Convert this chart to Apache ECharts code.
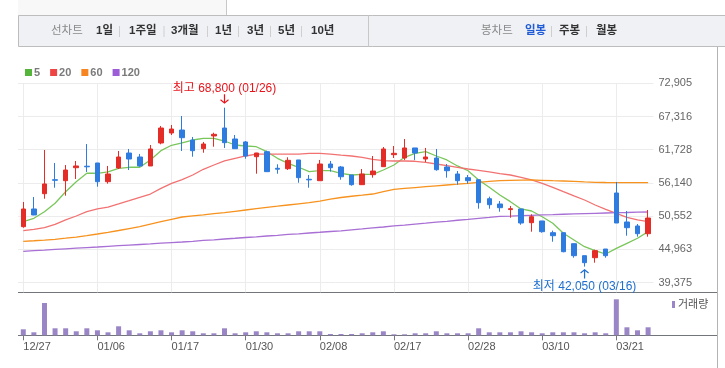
<!DOCTYPE html>
<html><head><meta charset="utf-8">
<script src="https://cdn.jsdelivr.net/npm/echarts@6/dist/echarts.min.js"></script>
<style>html,body{margin:0;padding:0;background:#fff}#c{width:725px;height:368px}</style>
</head><body><div id="c"></div>
<script>
const dates = ['12/27','12/28','12/29','01/02','01/03','01/04','01/05','01/06','01/09','01/10','01/11','01/12','01/13','01/16','01/17','01/18','01/19','01/20','01/25','01/26','01/27','01/30','01/31','02/01','02/02','02/03','02/06','02/07','02/08','02/09','02/10','02/13','02/14','02/15','02/16','02/17','02/20','02/21','02/22','02/23','02/24','02/27','02/28','03/02','03/03','03/06','03/07','03/08','03/09','03/10','03/13','03/14','03/15','03/16','03/17','03/20','03/21','03/22','03/23','03/24'];
const openP  = [48770,51750,54320,56680,56510,58700,58950,59490,56340,58650,61170,60500,58990,62860,64540,65040,63360,61900,64040,65380,63530,63030,60550,61390,58600,58530,60000,56750,56510,59320,58820,57470,55840,57520,58870,60890,60330,62020,60160,60330,58820,57640,57020,56680,53480,52590,51650,51750,49440,49730,47760,47760,45910,43890,43550,45010,54440,49560,48890,47590];
const closeP = [51750,50740,55960,56580,58310,58990,58850,56340,57640,60500,60160,58990,61850,65380,65210,63750,61560,62690,64320,62910,61900,60670,61170,58030,58450,59940,57020,56650,59320,58700,57180,55840,57640,58140,61850,61120,62020,61170,60500,58360,58190,56510,56510,52810,52470,51970,51800,49390,50450,47930,47250,44560,43890,42710,44730,43890,49390,48600,47590,50230];
const lowP   = [48600,50700,53480,55330,53990,56800,57980,55500,56010,58480,58310,58870,58990,62640,64200,61510,60550,61220,62230,62020,61850,60210,57690,58000,57690,58310,56170,55330,56500,58030,56680,55670,55800,57020,58850,60330,60000,60000,59660,58200,57020,55840,56010,51800,51800,51290,50280,49100,47930,47760,46240,44460,43550,42050,42710,43550,49390,47250,47090,47090];
const highP  = [52930,53770,61680,59490,59150,59830,62690,59490,58990,61510,61850,61010,62520,65720,65890,67400,63870,63030,64590,68800,64200,63190,61200,61560,59270,60450,60000,57470,60000,59830,58990,57470,58480,60670,62180,62350,63530,62020,62020,61850,59320,58140,57470,56700,53820,53090,52250,51750,50860,49730,48100,47760,45910,43890,44900,45010,56290,51410,49220,51580];
const ma5   = [49610,50180,51290,52710,54660,56340,57760,57760,57980,58600,58770,58770,60000,61560,62470,62860,63360,63650,63650,63190,62520,62350,62230,61390,60280,59440,58770,58030,58190,58190,57760,57470,57590,57590,58310,59150,60450,61120,61390,60670,60000,58990,58190,56630,55400,54100,52980,51750,51410,50450,49340,47660,46530,45400,44730,44170,45130,45970,46820,47930];
const ma20  = [48100,48330,48600,49170,49900,50570,51290,51750,52080,52590,53140,53720,54270,55230,56070,56680,57470,58430,59150,59830,60280,60670,61000,61000,61000,61000,61000,61120,61120,61000,60800,60670,60450,60110,59880,59830,59830,59780,59610,59320,59040,58770,58480,58260,57980,57690,57470,57080,56630,56070,55400,54660,53940,53260,52420,51700,51020,50350,49900,49610];
const ma60  = [46310,46400,46500,46650,46830,47030,47270,47540,47830,48130,48450,48770,49190,49610,50010,50400,50590,50770,50960,51120,51360,51580,51810,52030,52220,52420,52610,52810,53090,53400,53680,53890,54070,54270,54680,55060,55210,55350,55500,55650,55790,55920,56070,56230,56380,56510,56560,56600,56630,56580,56510,56460,56390,56310,56240,56210,56190,56170,56170,56170];
const ma120 = [44630,44730,44830,44950,45050,45150,45250,45350,45470,45570,45670,45770,45870,45990,46090,46190,46310,46450,46560,46700,46820,46950,47070,47200,47320,47460,47570,47710,47830,47960,48080,48250,48400,48570,48720,48890,49040,49210,49360,49530,49680,49850,50000,50170,50320,50490,50550,50620,50690,50750,50800,50860,50910,50970,51020,51070,51120,51160,51210,51240];
const volume = [600,300,3230,700,700,400,700,500,300,900,500,200,400,500,300,500,400,200,200,700,200,300,400,300,200,200,400,400,400,130,130,130,200,300,400,100,100,200,200,400,200,200,200,700,300,300,300,400,300,200,300,300,300,200,300,200,3600,800,500,800];
const yTickLabels = ['39,375','44,963','50,552','56,140','61,728','67,316','72,905'];
const maNames = ['5','20','60','120'];

const yMin = 39375, yInterval = 5588.27, yMax = yMin + 6 * yInterval;
const RED = '#e42d27', BLUE = '#2f7ce0';
const KFONT = '"Liberation Sans","Noto Sans CJK KR",sans-serif';

const candles = dates.map((d, i) => [openP[i], closeP[i], lowP[i], highP[i]]);
let hi = 0, lo = 0;
highP.forEach((v, i) => { if (v > highP[hi]) hi = i; });
lowP.forEach((v, i) => { if (v < lowP[lo]) lo = i; });
const fmt = v => v.toLocaleString('en-US');

const chart = echarts.init(document.getElementById('c'), null, {renderer: 'canvas'});
const GL = {left: 18, right: 71.6};
const gridColor = '#ececec';
const tool = [
  ['선차트', 51, '#8a8a8a', 'normal'], ['1일', 96, '#333', 'bold'], ['1주일', 129, '#333', 'bold'],
  ['3개월', 171, '#333', 'bold'], ['1년', 215, '#333', 'bold'], ['3년', 247, '#333', 'bold'],
  ['5년', 278, '#333', 'bold'], ['10년', 311, '#333', 'bold'],
  ['봉차트', 481, '#8a8a8a', 'normal'], ['일봉', 525, '#1f5bd6', 'bold'], ['주봉', 559, '#333', 'bold'], ['월봉', 596, '#333', 'bold']
];
const seps = [119, 163.5, 207, 238, 270, 301, 551, 586];
const graphics = [
  {type: 'rect', shape: {x: 18, y: 0, width: 208, height: 15}, style: {fill: '#f8f8f8'}, silent: true},
  {type: 'line', shape: {x1: 226.5, y1: 0, x2: 226.5, y2: 15}, style: {stroke: '#c8c8c8', lineWidth: 1}, silent: true},
  {type: 'rect', shape: {x: 18.5, y: 15.5, width: 720, height: 31}, style: {fill: '#eff1f5', stroke: '#bdbdbd', lineWidth: 1}, silent: true},
  {type: 'line', shape: {x1: 368.5, y1: 15.5, x2: 368.5, y2: 46.5}, style: {stroke: '#c8c8c8', lineWidth: 1}, silent: true},
  {type: 'line', shape: {x1: 18, y1: 292.5, x2: 717, y2: 292.5}, style: {stroke: '#72767a', lineWidth: 1.2}, silent: true},
  {type: 'line', shape: {x1: 18, y1: 335.5, x2: 717, y2: 335.5}, style: {stroke: '#72767a', lineWidth: 1.2}, silent: true},
  {type: 'line', shape: {x1: 717.5, y1: 47, x2: 717.5, y2: 368}, style: {stroke: '#b4b4b4', lineWidth: 1}, silent: true}
];
tool.forEach(t => graphics.push({type: 'text', x: t[1], y: 31, silent: true,
  style: {text: t[0], fill: t[2], font: t[3] + ' 11.5px ' + KFONT, textAlign: 'left', textVerticalAlign: 'middle'}}));
seps.forEach(x => graphics.push({type: 'line', shape: {x1: x + 0.5, y1: 26, x2: x + 0.5, y2: 37}, style: {stroke: '#cfcfcf', lineWidth: 1}, silent: true}));

const downArrow = 'path://M4,0 L4,10 M0.6,6.2 L4,9.8 L7.4,6.2';
const upArrow = 'path://M4,10 L4,0 M0.6,3.8 L4,0.2 L7.4,3.8';

const maLine = ['#79c65a', '#f27272', '#f7921e', '#a86fd4'];
const maIcon = ['#55b53a', '#ee4444', '#f68420', '#9c5ed6'];
const maData = [ma5, ma20, ma60, ma120];

const xBase = {type: 'category', data: dates, boundaryGap: true,
  axisLine: {show: false}, axisTick: {show: false}, axisLabel: {show: false},
  splitLine: {show: true, interval: 6, alignWithLabel: true, lineStyle: {color: gridColor, width: 1}}};

const option = {
  animation: false,
  textStyle: {fontFamily: KFONT},
  graphic: graphics,
  legend: [
    {data: maNames, left: 25, top: 67, padding: 0, itemWidth: 7, itemHeight: 7, itemGap: 10, icon: 'rect', selectedMode: false,
     textStyle: {fontSize: 11, fontWeight: 'bold', color: '#7a7a7a', padding: [0, 0, 0, -3], fontFamily: KFONT}},
    {data: ['거래량'], left: 672, top: 299, padding: 0, itemWidth: 3, itemHeight: 7, icon: 'rect', selectedMode: false,
     textStyle: {fontSize: 11, color: '#555', padding: [0, 0, 0, -2], fontFamily: KFONT}}
  ],
  grid: [
    {left: GL.left, right: GL.right, top: 83.3, height: 199.2},
    {left: GL.left, right: GL.right, top: 282.5, height: 9.8},
    {left: GL.left, right: GL.right, top: 292.5, height: 42.8}
  ],
  xAxis: [
    Object.assign({}, xBase, {gridIndex: 0}),
    Object.assign({}, xBase, {gridIndex: 1}),
    {type: 'category', data: dates, gridIndex: 2, boundaryGap: true,
     axisLine: {show: false},
     axisTick: {show: true, interval: 6, alignWithLabel: true, length: 5, lineStyle: {color: '#777'}},
     axisLabel: {show: true, interval: 6, align: 'left', margin: 6, fontSize: 11, color: '#555', fontFamily: KFONT},
     splitLine: {show: false}}
  ],
  yAxis: [
    {type: 'value', gridIndex: 0, position: 'right', min: yMin, max: yMax, interval: yInterval, scale: false,
     axisLine: {show: false}, axisTick: {show: false},
     axisLabel: {margin: 5, fontSize: 11, color: '#666', fontFamily: KFONT,
       formatter: v => { const i = Math.round((v - yMin) / yInterval); return yTickLabels[i] || ''; }},
     splitLine: {show: true, lineStyle: {color: '#ececec', width: 1}}},
    {type: 'value', gridIndex: 1, show: false, min: 0, max: 1, splitLine: {show: false}},
    {type: 'value', gridIndex: 2, show: false, min: 0, max: 4280, splitLine: {show: false}}
  ],
  series: [
    ...maNames.map((n, k) => ({
      name: n, type: 'line', xAxisIndex: 0, yAxisIndex: 0, data: maData[k], symbol: 'none', z: 2,
      itemStyle: {color: maIcon[k]}, lineStyle: {color: maLine[k], width: 1.3}, silent: true
    })),
    {name: 'price', type: 'candlestick', xAxisIndex: 0, yAxisIndex: 0, data: candles, barWidth: 5, z: 3,
     itemStyle: {color: RED, color0: BLUE, borderColor: RED, borderColor0: BLUE, borderWidth: 1},
     markPoint: {silent: true, symbolKeepAspect: false, data: [
       {coord: [dates[hi], highP[hi]], symbol: downArrow, symbolSize: [8, 9], symbolOffset: [0, -9],
        itemStyle: {color: 'rgba(0,0,0,0)', borderColor: '#e8141b', borderWidth: 1.3},
        label: {show: true, position: 'top', distance: -1, color: '#e8141b', fontSize: 12, fontFamily: KFONT,
          formatter: '최고 ' + fmt(highP[hi]) + ' (' + dates[hi] + ')'}},
       {coord: [dates[lo], lowP[lo]], symbol: upArrow, symbolSize: [8, 9], symbolOffset: [0, 7.5],
        itemStyle: {color: 'rgba(0,0,0,0)', borderColor: '#1e6fcf', borderWidth: 1.3},
        label: {show: true, position: 'bottom', distance: 1, color: '#1e6fcf', fontSize: 12, fontFamily: KFONT,
          formatter: '최저 ' + fmt(lowP[lo]) + ' (' + dates[lo] + ')'}}
     ]}},
    {name: 'gap', type: 'line', xAxisIndex: 1, yAxisIndex: 1, data: [], silent: true},
    {name: '거래량', type: 'bar', xAxisIndex: 2, yAxisIndex: 2, data: volume, barWidth: 5,
     itemStyle: {color: '#9a86c6'}, silent: true}
  ]
};
chart.setOption(option);
</script></body></html>
